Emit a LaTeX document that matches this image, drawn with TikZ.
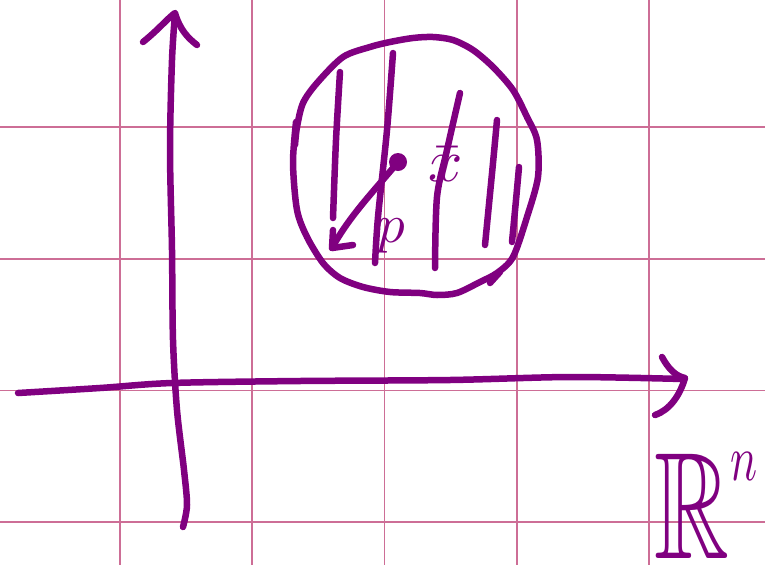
\documentclass[tikz,border=0pt]{standalone}
\usepackage{amssymb}
\definecolor{inkc}{RGB}{128,0,128}
\definecolor{gridc}{RGB}{205,110,150}
\begin{document}
\begin{tikzpicture}[x=1pt,y=-1pt,
  ink/.style={draw=inkc,line width=6.5pt,line cap=round,line join=round},
  gridline/.style={draw=gridc,line width=1.6pt},
  lab/.style={text=inkc,inner sep=0pt,outer sep=0pt}]
\useasboundingbox (0,0) rectangle (765,565);
\fill[white] (0,0) rectangle (765,565);
% grid
\foreach \x in {120,252,384.5,517,649} \draw[gridline] (\x,0) -- (\x,565);
\foreach \y in {127,259,390.5,522} \draw[gridline] (0,\y) -- (765,\y);
% vertical axis
\coordinate (vtop) at (175,13);
\draw[ink] plot[smooth] coordinates {(183,527)(187,505)(184,470)(177,410)(173,340)(172,250)(170,150)(172,60)(175,14)};
\draw[ink] (143,42) .. controls (158,30) and (168,18) .. (vtop) .. controls (180,30) and (188,38) .. (197,45);
% horizontal axis
\coordinate (htip) at (685,378);
\draw[ink] plot[smooth] coordinates {(18,393)(100,388)(172,383)(300,381)(450,380)(570,377)(683,379)};
\draw[ink] (662,357) .. controls (668,368) and (675,376) .. (htip) .. controls (680,395) and (670,410) .. (655,415);
% circle
\draw[ink] plot[smooth] coordinates {(296,122)(293,163)(297,210)(307,237)(323,263)(340,278)(363,287)(390,292)(420,293)(437,295)(457,293)(480,282)(497,273)(513,257)(527,217)(538,177)(537,140)(527,117)(513,90)(493,67)(473,50)(453,40)(433,37)(413,38)(390,42)(370,47)(343,57)(317,83)(303,103)(297,127)(295,145)};
\draw[ink] (490,283) -- (500,272);
% leaves
\draw[ink] plot[smooth] coordinates {(340,72)(336,140)(333,218)};
\draw[ink] plot[smooth] coordinates {(393,53)(387,130)(378,217)(375,263)};
\draw[ink] plot[smooth] coordinates {(460,93)(447,150)(437,197)(435,268)};
\draw[ink] plot[smooth] coordinates {(497,120)(493,163)(485,245)};
\draw[ink] plot[smooth] coordinates {(519,167)(516,200)(512,242)};
% point and vector
\coordinate (pt) at (398,162);
\coordinate (vtip) at (332,248);
\fill[inkc] (pt) circle (9pt);
\draw[ink] (pt) .. controls (375,190) and (350,215) .. (vtip);
\draw[ink] (333,230) -- (vtip) -- (353,245);
% labels
\node[lab] (plab) at (391,236) {\scalebox{5.5}{$p$}};
\node[lab] (xlab) at (446,164) {\scalebox{6}{$\bar{x}$}};
\node[lab] (rlab) at (706,505) {\scalebox{10.4}[15.2]{$\mathbb{R}$}\raisebox{78pt}{\scalebox{4.5}[6.5]{$n$}}};
\end{tikzpicture}
\end{document}
